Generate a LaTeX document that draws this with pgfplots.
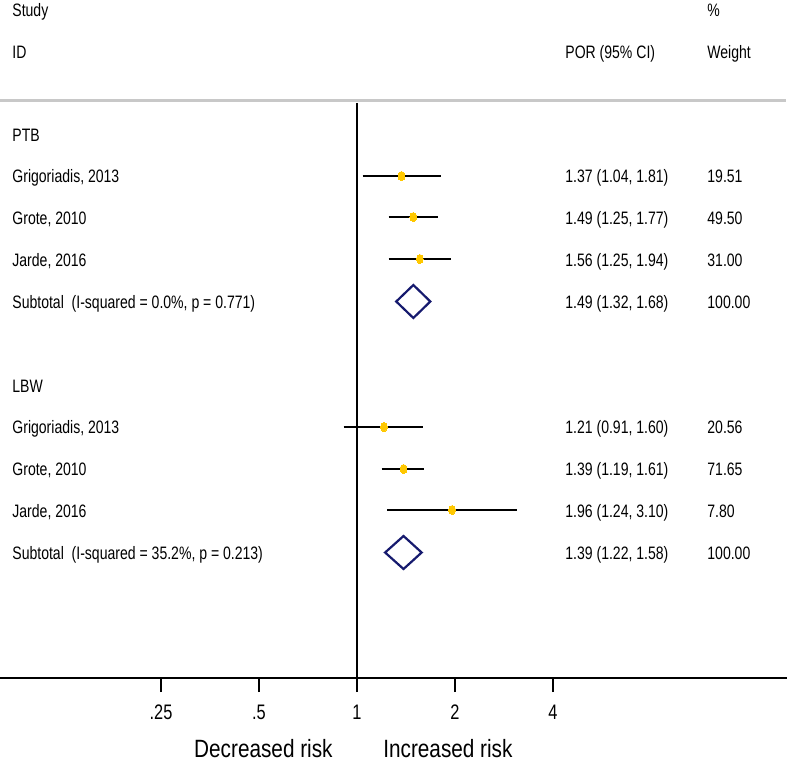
\documentclass[border=0pt]{standalone}
\usepackage{fontspec}
\setmainfont{Liberation Sans}[FakeStretch=0.78]
\newfontfamily\bigf{Liberation Sans}[FakeStretch=0.83]
\usepackage{pgfplots}
\pgfplotsset{compat=1.18}
\definecolor{cigold}{RGB}{255,200,0}
\definecolor{dnavy}{RGB}{22,26,110}
\definecolor{sepgray}{RGB}{200,200,200}
\tikzset{tl/.style={anchor=base west, inner sep=0pt, font=\fontsize{9}{11}\selectfont}}
\begin{document}
\begin{tikzpicture}
\begin{axis}[
  name=ax,
  scale only axis, width=393.5pt, height=339pt,
  xmode=log, log basis x=2, xmin=0.08007, xmax=20.934,
  ymin=-678, ymax=0,
  axis x line*=bottom, axis y line=none,
  x axis line style={line width=1pt,-},
  xtick={0.25,0.5,1,2,4}, xticklabels={.25,.5,1,2,4},
  minor xtick={}, xminorticks=false,
  tick align=outside, major tick length=7pt,
  every tick/.style={black, line width=1pt},
  xticklabel style={font=\fontsize{10.5}{12}\selectfont, anchor=base, inner sep=0pt},
  xticklabel shift=13.75pt,
  clip=false,
]
% separator and null line
\draw[sepgray, line width=1.3pt] (axis cs:0.08007,-100.5) -- (axis cs:20.8,-100.5);
\draw[black, line width=1pt] (axis cs:1,-103) -- (axis cs:1,-678);

% confidence intervals
\addplot[black, line width=1.3pt] coordinates {(1.04,-176) (1.81,-176)};
\addplot[black, line width=1.3pt] coordinates {(1.25,-217) (1.77,-217)};
\addplot[black, line width=1.3pt] coordinates {(1.25,-259) (1.94,-259)};
\addplot[black, line width=1.3pt] coordinates {(0.91,-427) (1.60,-427)};
\addplot[black, line width=1.3pt] coordinates {(1.19,-469) (1.61,-469)};
\addplot[black, line width=1.3pt] coordinates {(1.24,-510) (3.10,-510)};

% point estimates
\addplot[only marks, color=cigold, mark=*, mark size=2.3pt,
  mark options={fill=cigold, draw=cigold, line width=0pt, xscale=0.75}]
  coordinates {(1.37,-176) (1.49,-217) (1.56,-259) (1.21,-427) (1.39,-469) (1.96,-510)};

% subtotal diamonds
\addplot[dnavy, line width=1.1pt] coordinates {(1.32,-301.5) (1.49,-285) (1.68,-301.5) (1.49,-318)} -- cycle;
\addplot[dnavy, line width=1.1pt] coordinates {(1.22,-552.5) (1.39,-536) (1.58,-552.5) (1.39,-569)} -- cycle;

% texts
\node[tl] at (axis cs:0.08717,-16.5) {Study};
\node[tl] at (axis cs:0.08717,-58.5) {ID};
\node[tl] at (axis cs:11.888,-16.5) {\%};
\node[tl] at (axis cs:11.888,-58.5) {Weight};
\node[tl] at (axis cs:4.354,-58.5) {POR (95\% CI)};

\node[tl] at (axis cs:0.08717,-141.5) {PTB};
\node[tl] at (axis cs:0.08717,-183) {Grigoriadis, 2013};
\node[tl] at (axis cs:0.08717,-224) {Grote, 2010};
\node[tl] at (axis cs:0.08717,-266) {Jarde, 2016};
\node[tl] at (axis cs:0.08717,-308) {Subtotal\ \ (I-squared = 0.0\%, p = 0.771)};
\node[tl] at (axis cs:0.08717,-392.5) {LBW};
\node[tl] at (axis cs:0.08717,-433.5) {Grigoriadis, 2013};
\node[tl] at (axis cs:0.08717,-475.5) {Grote, 2010};
\node[tl] at (axis cs:0.08717,-517) {Jarde, 2016};
\node[tl] at (axis cs:0.08717,-559) {Subtotal\ \ (I-squared = 35.2\%, p = 0.213)};

\node[tl] at (axis cs:4.354,-183) {1.37 (1.04, 1.81)};
\node[tl] at (axis cs:4.354,-224) {1.49 (1.25, 1.77)};
\node[tl] at (axis cs:4.354,-266) {1.56 (1.25, 1.94)};
\node[tl] at (axis cs:4.354,-308) {1.49 (1.32, 1.68)};
\node[tl] at (axis cs:4.354,-433.5) {1.21 (0.91, 1.60)};
\node[tl] at (axis cs:4.354,-475.5) {1.39 (1.19, 1.61)};
\node[tl] at (axis cs:4.354,-517) {1.96 (1.24, 3.10)};
\node[tl] at (axis cs:4.354,-559) {1.39 (1.22, 1.58)};

\node[tl] at (axis cs:11.888,-183) {19.51};
\node[tl] at (axis cs:11.888,-224) {49.50};
\node[tl] at (axis cs:11.888,-266) {31.00};
\node[tl] at (axis cs:11.888,-308) {100.00};
\node[tl] at (axis cs:11.888,-433.5) {20.56};
\node[tl] at (axis cs:11.888,-475.5) {71.65};
\node[tl] at (axis cs:11.888,-517) {7.80};
\node[tl] at (axis cs:11.888,-559) {100.00};

\node[anchor=base east, inner sep=0pt, font=\bigf\fontsize{12.5}{14}\selectfont] at (axis cs:0.844,-757) {Decreased risk};
\node[anchor=base west, inner sep=0pt, font=\bigf\fontsize{12.5}{14}\selectfont] at (axis cs:1.2017,-757) {Increased risk};
\end{axis}
\pgfresetboundingbox
\path[use as bounding box] ([yshift=-41pt]ax.south west) rectangle (ax.north east);
\end{tikzpicture}
\end{document}
